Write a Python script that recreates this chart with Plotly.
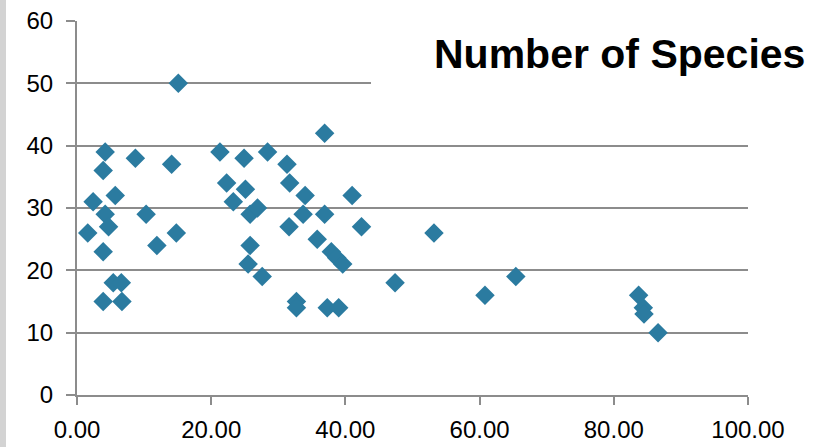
import plotly.graph_objects as go

x_vals = [1.6, 2.4, 3.9, 3.9, 3.9, 4.2, 4.2, 4.7, 5.4, 5.7, 6.6, 6.7, 8.7, 10.3, 11.9,
          14.1, 14.8, 15.1, 21.3, 22.3, 23.3, 24.9, 25.1, 25.5, 25.8, 25.8, 26.9, 27.6,
          28.4, 31.3, 31.6, 31.7, 32.7, 32.7, 33.7, 34.0, 35.8, 36.9, 36.9, 37.3, 37.9,
          38.7, 39.0, 39.6, 41.0, 42.4, 47.4, 53.2, 60.8, 65.4, 83.7, 84.4, 84.5, 86.6]
species = [26, 31, 15, 23, 36, 39, 29, 27, 18, 32, 18, 15, 38, 29, 24,
           37, 26, 50, 39, 34, 31, 38, 33, 21, 29, 24, 30, 19,
           39, 37, 27, 34, 15, 14, 29, 32, 25, 42, 29, 14, 23,
           22, 14, 21, 32, 27, 18, 26, 16, 19, 16, 14, 13, 10]
x_ticks = [0, 20, 40, 60, 80, 100]
x_tick_labels = ["0.00", "20.00", "40.00", "60.00", "80.00", "100.00"]
y_ticks = [0, 10, 20, 30, 40, 50, 60]
title_text = "Number of Species"

W, H = 820, 447
L, R, T, B = 77, 72, 21, 52
PW, PH = W - L - R, H - T - B


def px_x(p):
    return (p - L) / PW


def px_y(p):
    return (H - B - p) / PH


fig = go.Figure()
fig.add_trace(go.Scatter(
    x=x_vals, y=species, mode="markers",
    marker=dict(symbol="diamond", size=15, color="#2B7BA0", line=dict(width=0)),
    showlegend=False, cliponaxis=False,
))

grid_col = "#8C8C8C"
fig.update_layout(
    template="none",
    width=W, height=H,
    margin=dict(l=L, r=R, t=T, b=B, pad=0, autoexpand=False),
    paper_bgcolor="white", plot_bgcolor="white",
    font=dict(family="Liberation Sans, Arial, sans-serif", size=24, color="#000000"),
    xaxis=dict(range=[0, 100], tickvals=x_ticks, ticktext=x_tick_labels,
               showgrid=False, zeroline=False, showline=True, linecolor=grid_col,
               linewidth=2, ticks="outside", ticklen=8, tickwidth=2, tickcolor=grid_col,
               ticklabelstandoff=4, automargin=False, fixedrange=True),
    yaxis=dict(range=[0, 60], tickvals=y_ticks, showgrid=True, gridcolor=grid_col,
               gridwidth=2, zeroline=False, showline=True, linecolor=grid_col,
               linewidth=2, ticks="outside", ticklen=9, tickwidth=2, tickcolor=grid_col,
               ticklabelstandoff=8, automargin=False, fixedrange=True),
    shapes=[
        dict(type="rect", xref="paper", yref="paper",
             x0=px_x(371), x1=px_x(818), y0=px_y(100), y1=px_y(5),
             fillcolor="white", line=dict(width=0), layer="above"),
        dict(type="rect", xref="paper", yref="paper",
             x0=px_x(0), x1=px_x(6), y0=px_y(447), y1=px_y(0),
             fillcolor="#D3D3D3", line=dict(width=0), layer="above"),
    ],
    annotations=[
        dict(text="<b>" + title_text + "</b>", xref="paper", yref="paper",
             x=px_x(619), y=px_y(54), xanchor="center", yanchor="middle",
             showarrow=False, font=dict(size=41, color="#000000")),
    ],
)

fig.write_html("out.html", config={"displayModeBar": False, "staticPlot": True},
               post_script="document.body.style.margin='0px';")
